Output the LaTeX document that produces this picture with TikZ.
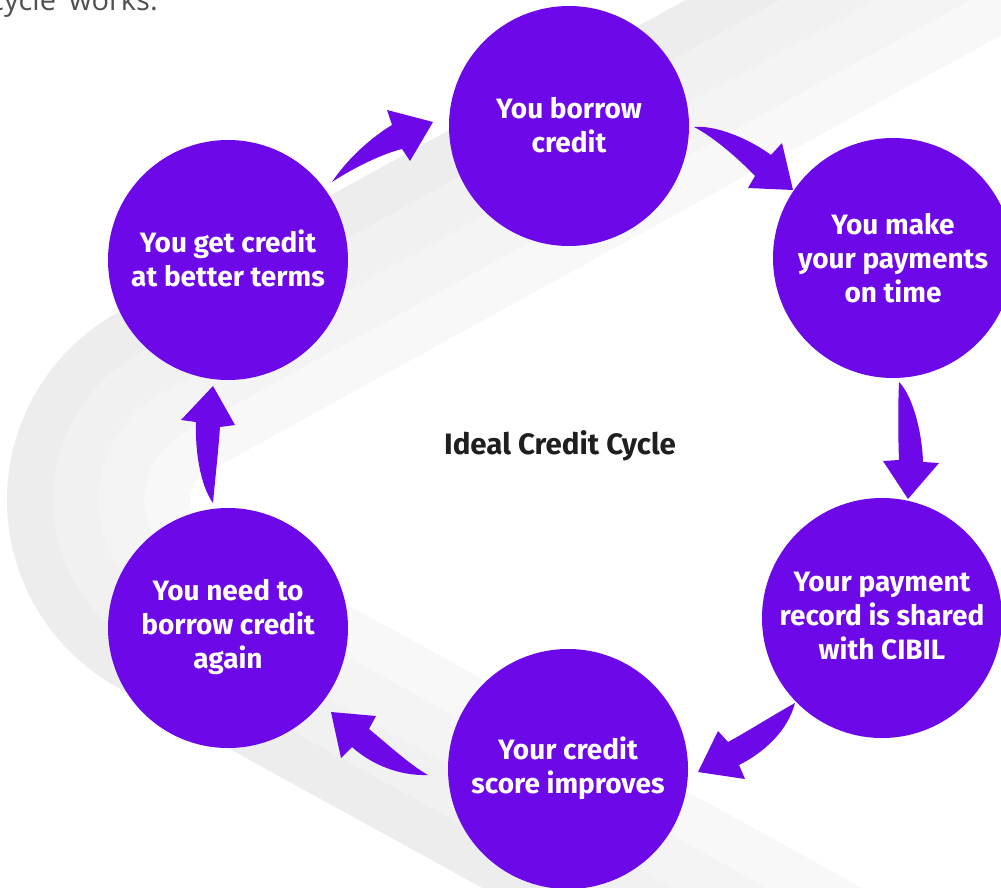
\documentclass[tikz,border=0pt]{standalone}
\usepackage{fontspec}
\setmainfont{Fira Sans}
\newfontfamily\introfont{Open Sans}
\definecolor{cpurple}{RGB}{109,8,233}
\definecolor{band0}{HTML}{EDEDED}
\definecolor{band1}{HTML}{F1F1F1}
\definecolor{band2}{HTML}{F4F4F4}
\definecolor{band3}{HTML}{F8F8F8}
\definecolor{titlegrey}{HTML}{1F1F1F}
\definecolor{introgrey}{HTML}{505050}
\begin{document}
\begin{tikzpicture}[x=1pt,y=-1pt,
  bubble/.style={circle, fill=cpurple, minimum size=240pt, inner sep=0pt},
  lbl/.style={align=center, text=white, font=\bfseries\fontsize{28}{34}\selectfont, inner sep=0pt},
  arrowshape/.style={fill=cpurple},
  titletext/.style={text=titlegrey, font=\bfseries\fontsize{29.5}{34}\selectfont, inner sep=0pt},
  introtext/.style={text=introgrey, font=\introfont\fontsize{29}{34}\selectfont, inner sep=0pt}]
\useasboundingbox (0,0) rectangle (1001,888);
\clip (0,0) rectangle (1001,888);
\fill[white] (0,0) rectangle (1001,888);
% background swoosh bands: two straight arms joined by a circular arc
\foreach \k/\col in {0/band0,1/band1,2/band2,3/band3,4/white} {
  \pgfmathsetmacro\rr{214-45.8*\k}
  \pgfmathsetmacro\cx{-223+95*\k+\rr/0.482}
  \pgfmathsetmacro\uy{0.55*(95*\k-715)}
  \pgfmathsetmacro\ly{888+0.55*(917-95*\k)}
  \fill[\col] (1400,\uy) -- plot[domain=241.2:118.8, samples=60, variable=\t] ({\cx+\rr*cos(\t)},{500+\rr*sin(\t)}) -- (1400,\ly) -- cycle;
}
% intro text (cut by the top edge)
\node[introtext, anchor=base east] (intro) at (158,11) {cycle\hspace{0.45em}works.};
% circles
\node[bubble] (c1) at (569,126) {};
\node[bubble] (c2) at (893,258) {};
\node[bubble] (c3) at (882,618) {};
\node[bubble] (c4) at (568,769) {};
\node[bubble] (c5) at (228,628) {};
\node[bubble] (c6) at (228,260) {};
% labels
\node[lbl] (t1) at (569,125) {You borrow\\credit};
\node[lbl] (t2) at (893,258) {You make\\your payments\\on time};
\node[lbl] (t3) at (882,616) {Your payment\\record is shared\\with CIBIL};
\node[lbl] (t4) at (568,768) {Your credit\\score improves};
\node[lbl] (t5) at (228,627) {You need to\\borrow credit\\again};
\node[lbl] (t6) at (228,258) {You get credit\\at better terms};
\node[titletext] (title) at (560,446) {Ideal Credit Cycle};
% curved arrows
\fill[arrowshape] (332,182) .. controls (348,158) and (372,137) .. (392,125) -- (387,110) -- (433,122) -- (410,161) -- (402,149) .. controls (382,154) and (355,167) .. cycle;
\fill[arrowshape] (694,127) .. controls (715,125) and (748,138) .. (771,155) -- (782,143) -- (793,190) -- (748,188) -- (755,176) .. controls (738,158) and (712,136) .. cycle;
\fill[arrowshape] (899,382) .. controls (912,395) and (922,430) .. (923,462) -- (939,463) -- (908,499) -- (883,461) -- (899,460) .. controls (898,435) and (898,405) .. cycle;
\fill[arrowshape] (795,703) .. controls (775,714) and (750,730) .. (728,742) -- (718,731) -- (698,772) -- (745,779) -- (739,765) .. controls (765,752) and (788,730) .. cycle;
\fill[arrowshape] (428,775) .. controls (410,765) and (385,742) .. (369,729) -- (376,716) -- (331,712) -- (341,758) -- (352,747) .. controls (372,765) and (400,776) .. cycle;
\fill[arrowshape] (213,503) .. controls (200,485) and (195,450) .. (196,422) -- (181,420) -- (213,386) -- (235,425) -- (220,427) .. controls (218,455) and (215,480) .. cycle;
\end{tikzpicture}
\end{document}
